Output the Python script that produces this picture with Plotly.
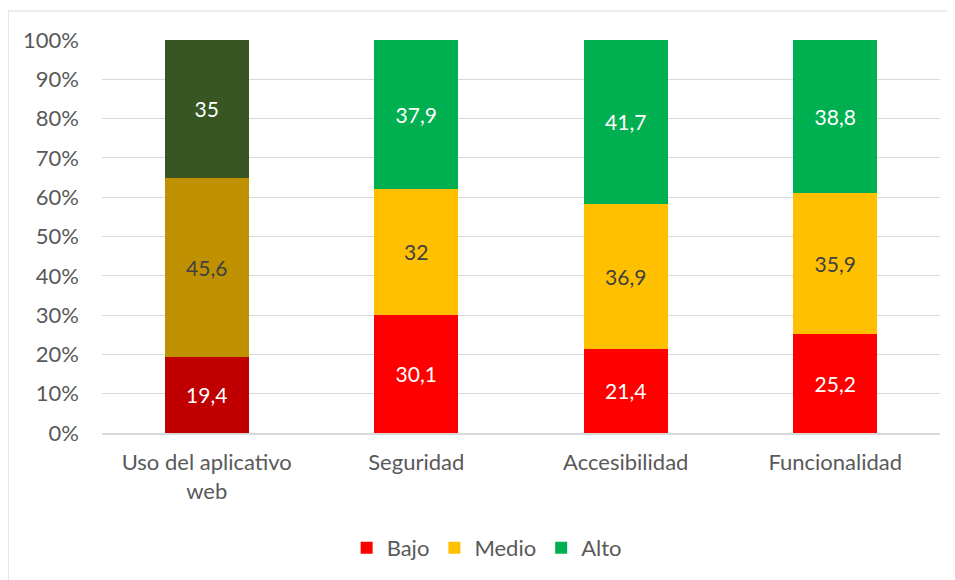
import plotly.graph_objects as go

categories = ["Uso del aplicativo<br>web", "Seguridad", "Accesibilidad", "Funcionalidad"]
bajo = [19.4, 30.1, 21.4, 25.2]
medio = [45.6, 32.0, 36.9, 35.9]
alto = [35.0, 37.9, 41.7, 38.8]
series_names = ["Bajo", "Medio", "Alto"]
y_ticks = [0, 10, 20, 30, 40, 50, 60, 70, 80, 90, 100]
y_tick_labels = [f"{t}%" for t in y_ticks]
bright_colors = ["#FF0000", "#FFC000", "#00B050"]
dark_colors = ["#C00000", "#BF9000", "#375623"]
label_colors = ["white", "#404040", "white"]

FONT = "Lato"

def fmt(v):
    s = f"{v:g}"
    return s.replace(".", ",")

fig = go.Figure()
series = [bajo, medio, alto]
# first category uses darker shades (not in legend)
for name, vals, col, lc in zip(series_names, series, dark_colors, label_colors):
    fig.add_trace(go.Bar(
        x=categories[:1], y=vals[:1], name=name, showlegend=False,
        marker=dict(color=col, line=dict(width=0)),
        text=[fmt(v) for v in vals[:1]], textposition="inside",
        insidetextanchor="middle", textangle=0,
        textfont=dict(family=FONT, size=21, color=lc),
        hoverinfo="skip",
    ))
for name, vals, col, lc in zip(series_names, series, bright_colors, label_colors):
    fig.add_trace(go.Bar(
        x=categories[1:], y=vals[1:], name=name,
        marker=dict(color=col, line=dict(width=0)),
        text=[fmt(v) for v in vals[1:]], textposition="inside",
        insidetextanchor="middle", textangle=0,
        textfont=dict(family=FONT, size=21, color=lc),
    ))

fig.update_layout(
    barmode="stack", barnorm="percent", bargap=0.6,
    width=947, height=572,
    margin=dict(l=94, r=15, t=32, b=146),
    paper_bgcolor="white", plot_bgcolor="white",
    font=dict(family=FONT, size=22, color="#595959"),
    legend=dict(orientation="h", x=0.459, xanchor="center", y=-0.289, yanchor="middle",
                font=dict(family=FONT, size=22, color="#595959"),
                itemwidth=30, traceorder="normal", itemclick=False),
    shapes=[dict(type="rect", xref="paper", yref="paper",
                 x0=-0.112, x1=1.05, y0=-0.45, y1=1.0736,
                 line=dict(color="#D9D9D9", width=1), fillcolor="rgba(0,0,0,0)", layer="below")],
)
fig.update_yaxes(range=[0, 100], tickmode="array", tickvals=y_ticks, ticktext=y_tick_labels,
                 showgrid=True, gridcolor="#D9D9D9", gridwidth=1,
                 zeroline=False, showline=False, ticks="",
                 ticklabelstandoff=22, tickfont=dict(family=FONT, size=22, color="#595959"))
fig.update_xaxes(showline=True, linecolor="#D9D9D9", linewidth=1.5, ticks="",
                 ticklabelstandoff=9, tickfont=dict(family=FONT, size=22, color="#595959"))

fig.write_html("out.html")
